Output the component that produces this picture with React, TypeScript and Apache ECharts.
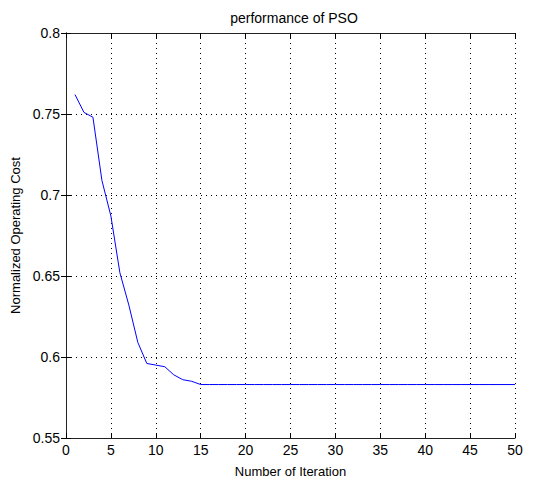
import React, { useEffect, useRef } from "react";
import * as echarts from "echarts";

const iterations = [1,2,3,4,5,6,7,8,9,10,11,12,13,14,15,16,17,18,19,20,21,22,23,24,25,26,27,28,29,30,31,32,33,34,35,36,37,38,39,40,41,42,43,44,45,46,47,48,49,50];
const costs = [0.762,0.751,0.748,0.709,0.687,0.652,0.632,0.609,0.596,0.595,0.594,0.589,0.586,0.585,0.583,0.583,0.583,0.583,0.583,0.583,0.583,0.583,0.583,0.583,0.583,0.583,0.583,0.583,0.583,0.583,0.583,0.583,0.583,0.583,0.583,0.583,0.583,0.583,0.583,0.583,0.583,0.583,0.583,0.583,0.583,0.583,0.583,0.583,0.583,0.583];
const titleText = "performance of PSO";
const xName = "Number of Iteration";
const yName = "Normalized Operating Cost";

export default function App() {
  const ref = useRef<HTMLDivElement>(null);
  useEffect(() => {
    if (!ref.current) return;
    const chart = echarts.init(ref.current, undefined, { renderer: "svg" });
    const font = "'Liberation Sans', Arial, sans-serif";
    const axisLine = { show: true, lineStyle: { color: "#222", width: 1 } };
    const fmt = (v: number) => String(parseFloat(v.toFixed(2)));
    chart.setOption({
      animation: false,
      backgroundColor: "#fff",
      title: {
        text: titleText,
        left: 289,
        top: 6,
        textAlign: "center",
        textStyle: { fontFamily: font, fontSize: 14, fontWeight: "normal", color: "#000" },
      },
      grid: { left: 66, right: 22, top: 33, bottom: 43 },
      xAxis: [
        {
          type: "value", min: 0, max: 50, interval: 5, position: "bottom",
          name: xName, nameLocation: "middle", nameGap: 27,
          nameTextStyle: { fontFamily: font, fontSize: 13, color: "#000" },
          axisLine, axisTick: { show: true, inside: true, length: 5, lineStyle: { color: "#000" } },
          axisLabel: { fontFamily: font, fontSize: 14, color: "#000", margin: 5, formatter: fmt },
          splitLine: { show: true, lineStyle: { color: "#000", type: [1, 4], width: 1 } },
        },
        {
          type: "value", min: 0, max: 50, interval: 5, position: "top",
          axisLine, axisTick: { show: true, inside: true, length: 5, lineStyle: { color: "#000" } },
          axisLabel: { show: false }, splitLine: { show: false },
        },
      ],
      yAxis: [
        {
          type: "value", min: 0.55, max: 0.8, interval: 0.05, position: "left",
          name: yName, nameLocation: "middle", nameGap: 38, nameRotate: 90,
          nameTextStyle: { fontFamily: font, fontSize: 13, color: "#000" },
          axisLine, axisTick: { show: true, inside: true, length: 5, lineStyle: { color: "#000" } },
          axisLabel: { fontFamily: font, fontSize: 14, color: "#000", margin: 6, formatter: fmt },
          splitLine: { show: true, lineStyle: { color: "#000", type: [1, 4], width: 1 } },
        },
        {
          type: "value", min: 0.55, max: 0.8, interval: 0.05, position: "right",
          axisLine, axisTick: { show: true, inside: true, length: 5, lineStyle: { color: "#000" } },
          axisLabel: { show: false }, splitLine: { show: false },
        },
      ],
      series: [
        {
          type: "line",
          data: iterations.map((x, i) => [x, costs[i]]),
          showSymbol: false,
          symbol: "none",
          lineStyle: { color: "#0000ff", width: 1 },
          xAxisIndex: 0, yAxisIndex: 0,
        },
      ],
    });
    return () => chart.dispose();
  }, []);
  return <div ref={ref} style={{ width: 537, height: 483, position: "absolute", left: 0, top: 0 }} />;
}
